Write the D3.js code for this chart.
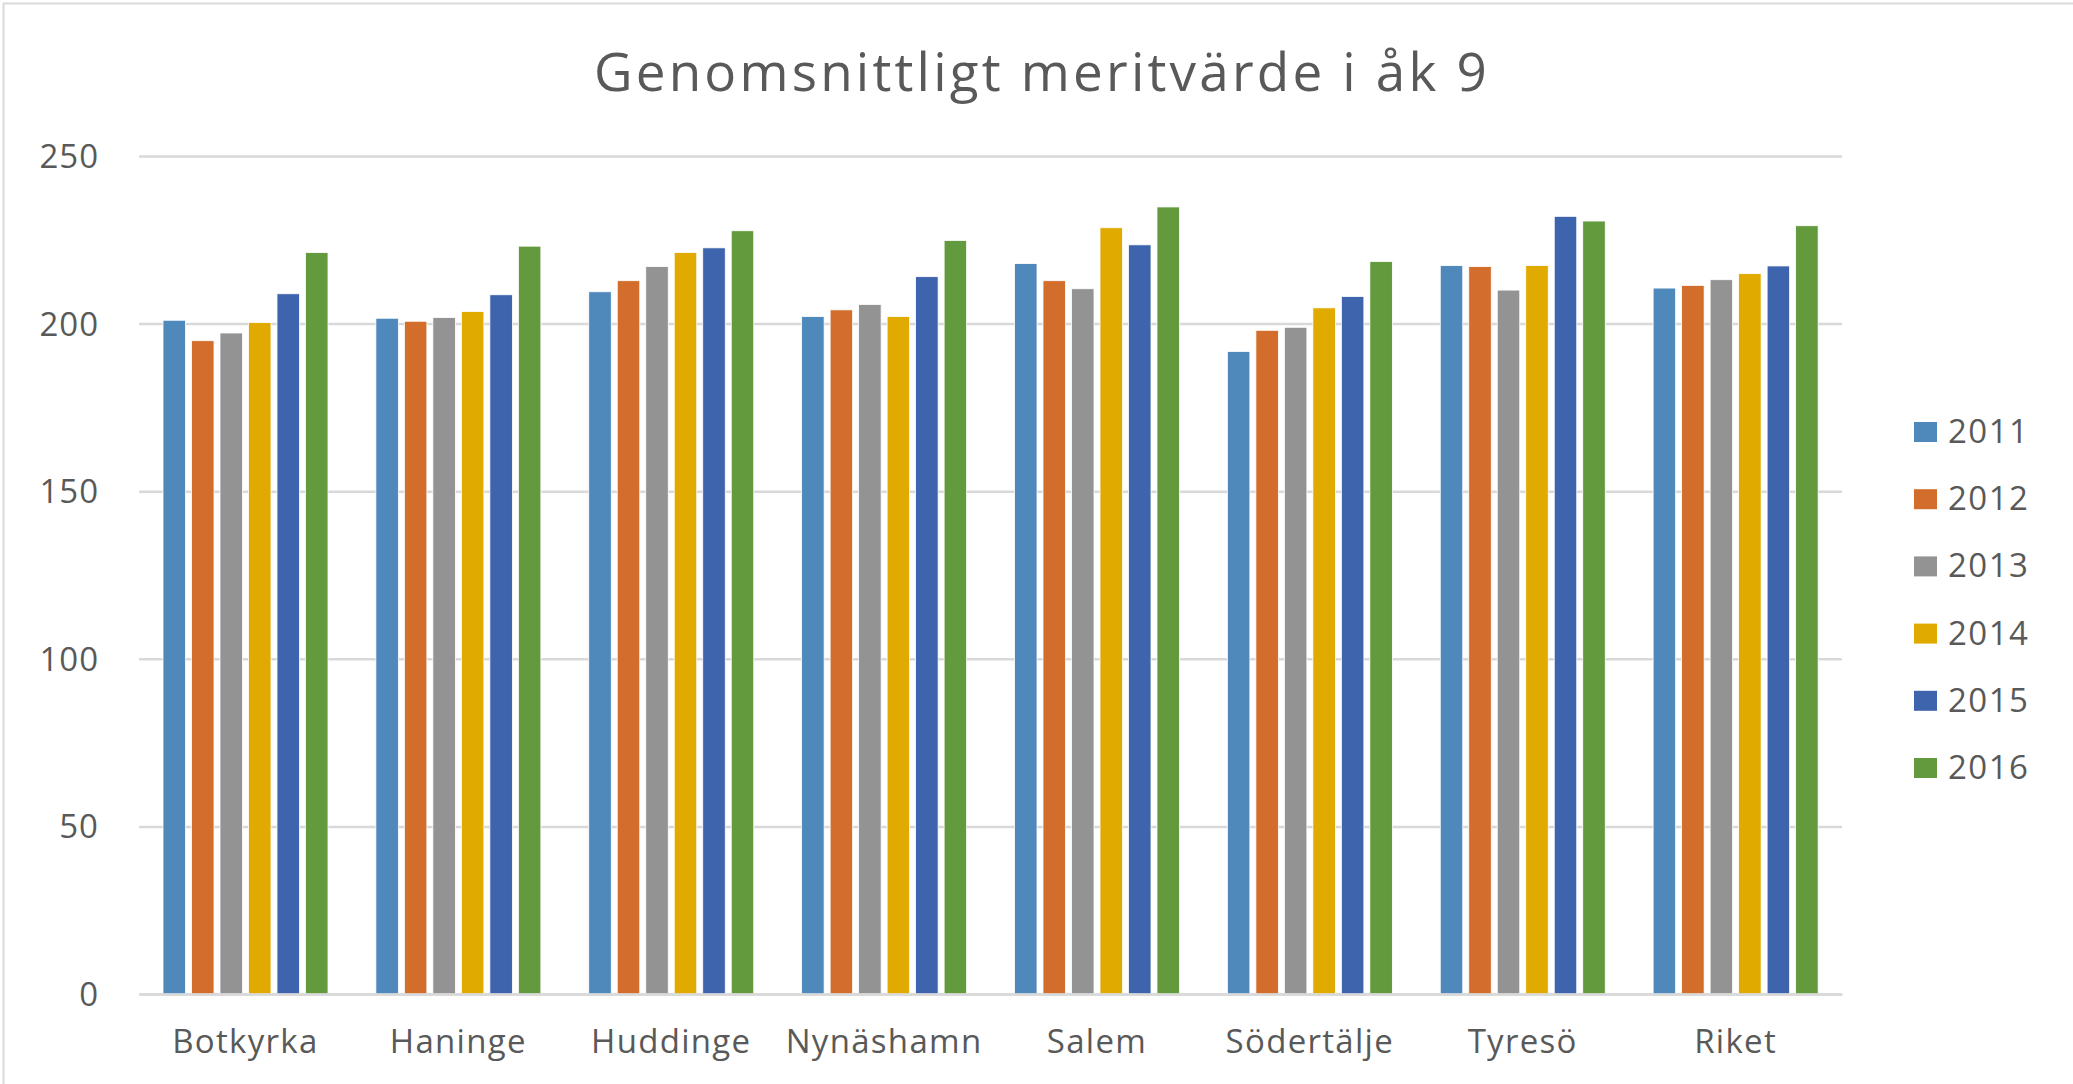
<!DOCTYPE html>
<html>
<head>
<meta charset="utf-8">
<script src="https://cdn.jsdelivr.net/npm/d3@7"></script>
<style>
  body { margin: 0; background: #fff; }
  svg { display: block; font-family: "Open Sans", sans-serif; }
</style>
</head>
<body>
<svg id="chart"></svg>
<script>
const categories = ["Botkyrka", "Haninge", "Huddinge", "Nynäshamn", "Salem", "Södertälje", "Tyresö", "Riket"];
const years = ["2011", "2012", "2013", "2014", "2015", "2016"];
const colors = ["#4f89bc", "#d36d2b", "#939393", "#e1aa00", "#3d64ac", "#629a3d"];

const v2011 = [201.0, 201.6, 209.5, 202.1, 217.9, 191.7, 217.3, 210.6];
const v2012 = [194.9, 200.7, 212.8, 204.1, 212.8, 198.0, 217.0, 211.4];
const v2013 = [197.2, 201.8, 217.0, 205.7, 210.4, 198.9, 210.0, 213.1];
const v2014 = [200.3, 203.6, 221.2, 202.1, 228.6, 204.7, 217.3, 214.9];
const v2015 = [208.9, 208.6, 222.6, 214.0, 223.5, 208.1, 232.0, 217.2];
const v2016 = [221.2, 223.1, 227.7, 224.8, 234.8, 218.5, 230.6, 229.2];
const series = [v2011, v2012, v2013, v2014, v2015, v2016];

const yTicks = [0, 50, 100, 150, 200, 250];
const title = "Genomsnittligt meritvärde i åk 9";

const W = 2073, H = 1084;
const plotLeft = 139, plotRight = 1842, plotTop = 156, plotBottom = 994;
const textColor = "#595959";

let svg = d3.select("#chart").attr("width", W).attr("height", H);

// ram runt diagrammet
svg.append("rect")
    .attr("x", 3.5).attr("y", 3.5)
    .attr("width", W + 10).attr("height", H + 10)
    .attr("fill", "none").attr("stroke", "#d9d9d9").attr("stroke-width", 2);

let x0 = d3.scaleBand().domain(categories).range([plotLeft, plotRight]).padding(0);
let x1 = d3.scaleBand().domain(years).range([24, 189]).paddingInner(0.21).paddingOuter(0);
let y = d3.scaleLinear().domain([0, 250]).range([plotBottom, plotTop]);

// rutnät
let axisY = d3.axisLeft(y).tickValues(yTicks).tickSize(-(plotRight - plotLeft)).tickPadding(40);
let gy = svg.append("g")
    .attr("transform", "translate(" + plotLeft + ",0)")
    .call(axisY);
gy.select(".domain").remove();
gy.selectAll(".tick line").attr("stroke", "#d9d9d9").attr("stroke-width", 2.5);
gy.selectAll(".tick text")
    .attr("fill", textColor)
    .attr("font-size", 33)
    .attr("letter-spacing", 1)
    .attr("dy", "0.35em")
    .attr("font-family", "Open Sans");

// staplar
let groups = svg.append("g").selectAll("g")
    .data(categories)
    .join("g")
    .attr("transform", d => "translate(" + x0(d) + ",0)");

groups.selectAll("rect")
    .data((c, i) => years.map((yr, j) => ({ year: yr, value: series[j][i], color: colors[j] })))
    .join("rect")
    .attr("x", d => x1(d.year))
    .attr("width", x1.bandwidth())
    .attr("y", d => y(d.value))
    .attr("height", d => y(0) - y(d.value))
    .attr("fill", d => d.color)
    .attr("stroke", "#ffffff")
    .attr("stroke-width", 0.8);

// x-axel
let axisX = d3.axisBottom(x0).tickSize(0).tickPadding(0);
let gx = svg.append("g")
    .attr("transform", "translate(0," + plotBottom + ")")
    .call(axisX);
gx.select(".domain").attr("stroke", "#d9d9d9").attr("stroke-width", 2.5);
gx.selectAll(".tick text")
    .attr("fill", textColor)
    .attr("font-size", 33)
    .attr("letter-spacing", 1.3)
    .attr("font-family", "Open Sans")
    .attr("y", 59)
    .attr("dy", 0);

// titel
svg.append("text")
    .attr("x", 1042)
    .attr("y", 91)
    .attr("text-anchor", "middle")
    .attr("fill", textColor)
    .attr("font-size", 53)
    .attr("letter-spacing", 3.2)
    .text(title);

// legend
let legend = svg.append("g").selectAll("g")
    .data(years)
    .join("g")
    .attr("transform", (d, i) => "translate(1914," + (432 + i * 67.2) + ")");

legend.append("rect")
    .attr("x", 0).attr("y", -10)
    .attr("width", 23).attr("height", 20)
    .attr("fill", (d, i) => colors[i]);

legend.append("text")
    .attr("x", 34)
    .attr("y", 11)
    .attr("fill", textColor)
    .attr("font-size", 33)
    .attr("letter-spacing", 1.5)
    .text(d => d);
</script>
</body>
</html>
